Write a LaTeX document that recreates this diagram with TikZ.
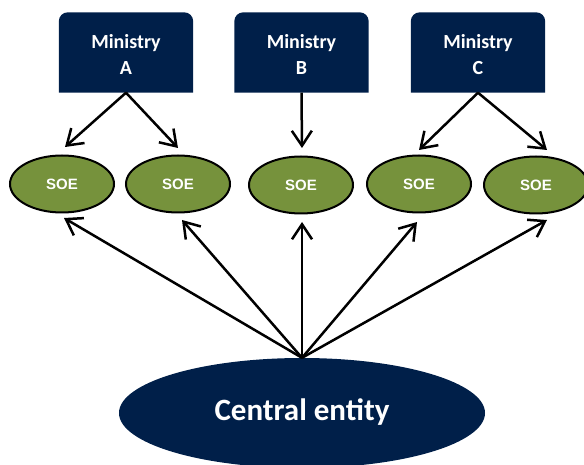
\documentclass[tikz,border=0pt]{standalone}
\usepackage{fontspec}
\setmainfont{Carlito}
\newfontfamily\arialbf{Liberation Sans}[BoldFont={Liberation Sans Bold}]
\usetikzlibrary{arrows.meta,backgrounds,shapes.geometric}
\definecolor{navy}{RGB}{0,31,73}
\definecolor{olive}{RGB}{118,146,60}
\tikzset{
  ministry/.style={minimum width=134pt, minimum height=80pt, inner sep=0pt,
    text=white, align=center, font=\fontsize{20}{26}\selectfont\bfseries},
  soe/.style={ellipse, draw=black, line width=2pt, fill=olive,
    minimum width=104pt, minimum height=57pt, inner sep=0pt,
    text=white, font=\arialbf\fontsize{15}{17}\selectfont\bfseries},
  central/.style={ellipse, fill=navy, minimum width=366pt, minimum height=110pt,
    inner sep=0pt, text=white, font=\fontsize{31}{36}\selectfont\bfseries},
  arr/.style={-{Straight Barb[length=15pt,width=20pt,line width=2.5pt]},
    line width=2.5pt, black},
}
\begin{document}
\begin{tikzpicture}[x=1pt,y=-1pt]
  \useasboundingbox (0,0) rectangle (584,465);
  \begin{scope}
    \clip (0,0) rectangle (584,465);

    % ministries (box drawn 2pt above the text centre)
    \node[ministry] (ma) at (126,54.5) {Ministry\\A};
    \node[ministry] (mb) at (301.5,54.5) {Ministry\\B};
    \node[ministry] (mc) at (478,54.5) {Ministry\\C};
    \begin{scope}[on background layer]
      \foreach \m in {ma,mb,mc}
        \fill[navy] ([yshift=2pt]\m.south west) [rounded corners=9pt]
          -- ([yshift=2pt]\m.north west) -- ([yshift=2pt]\m.north east)
          [sharp corners] -- ([yshift=2pt]\m.south east) -- cycle;
    \end{scope}

    % state-owned enterprises
    \node[soe] (s1) at (62,184) {SOE};
    \node[soe] (s2) at (178,184) {SOE};
    \node[soe] (s3) at (301,185) {SOE};
    \node[soe] (s4) at (419,184) {SOE};
    \node[soe] (s5) at (536,185) {SOE};

    % central entity
    \node[central] (ce) at (302,413) {\raisebox{7pt}{Central entity}};

    % arrow end points
    \coordinate (ta1) at (65,147);
    \coordinate (ta2) at (178,148);
    \coordinate (tb3) at (302,148);
    \coordinate (tc4) at (419,150);
    \coordinate (tc5) at (547,150);
    \coordinate (b1) at (64,218);
    \coordinate (b2) at (182,220);
    \coordinate (b3) at (302,222);
    \coordinate (b4) at (417,222);
    \coordinate (b5) at (547,220);

    % ministry ownership links
    \draw[arr] ([yshift=2pt]ma.south) -- (ta1);
    \draw[arr] ([yshift=2pt]ma.south) -- (ta2);
    \draw[arr] ([yshift=2pt]mb.south) -- (tb3);
    \draw[arr] ([yshift=2pt]mc.south) -- (tc4);
    \draw[arr] ([yshift=2pt]mc.south) -- (tc5);

    % central oversight links
    \foreach \t in {b1,b2,b3,b4,b5}
      \draw[arr] (ce.north) -- (\t);
  \end{scope}
\end{tikzpicture}
\end{document}
